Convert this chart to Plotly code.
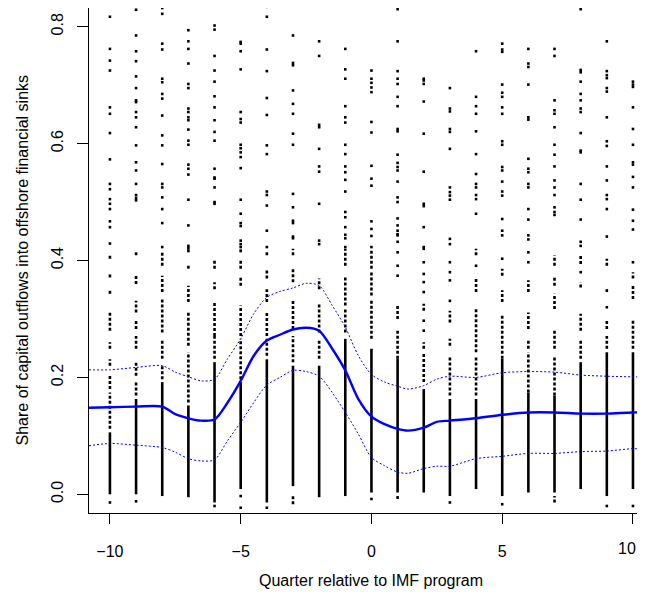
import plotly.graph_objects as go

# ---------------- data ----------------
QUARTERS = list(range(-10, 11))

# sparse individual observations (upper part of each column)
SPARSE = {
    -10: [0.817, 0.762, 0.742, 0.725, 0.662, 0.651, 0.618, 0.573, 0.531, 0.522, 0.505, 0.497, 0.488, 0.467, 0.457, 0.429, -0.014],
    -9: [0.829, 0.785, 0.758, 0.741, 0.715, 0.695, 0.674, 0.671, 0.654, 0.645, 0.628, 0.597, 0.568, 0.554, 0.531, 0.512, 0.507, 0.503, -0.012],
    -8: [0.832, 0.822, 0.771, 0.761, 0.711, 0.705, 0.685, 0.677, 0.648, 0.614, 0.597, 0.565, 0.531, 0.525, 0.508, 0.488, 0.464, 0.423],
    -7: [0.794, 0.775, 0.762, 0.737, 0.702, 0.695, 0.660, 0.654, 0.645, 0.640, 0.624, 0.605, 0.598, 0.564, 0.557, 0.547, 0.504, 0.460, 0.425, 0.421],
    -6: [0.802, 0.795, 0.750, 0.725, 0.706, 0.681, 0.662, 0.640, 0.620, 0.605, 0.557, 0.542, 0.540, 0.525, 0.500, 0.497, -0.020],
    -5: [0.774, 0.771, 0.758, 0.727, 0.654, 0.642, 0.636, 0.598, 0.592, 0.585, 0.577, 0.558, 0.504, 0.480, 0.464, 0.459, 0.434, 0.428, 0.423, -0.003, -0.023],
    -4: [0.834, 0.817, 0.761, 0.724, 0.678, 0.649, 0.597, 0.582, 0.518, 0.512, 0.494, 0.451, 0.423, -0.023],
    -3: [0.785, 0.738, 0.734, 0.691, 0.668, 0.651, 0.617, 0.598, 0.514, 0.491, 0.468, 0.464, 0.441, 0.438],
    -2: [0.775, 0.750, 0.632, 0.628, 0.591, 0.561, 0.552, 0.497, 0.434, 0.428],
    -1: [0.762, 0.727, 0.711, 0.664, 0.645, 0.636, 0.598, 0.582, 0.561, 0.551, 0.538, 0.518, 0.483, 0.474, 0.457, 0.444, 0.438, 0.423],
    0: [0.725, 0.711, 0.704, 0.696, 0.688, 0.637, 0.619, 0.562, 0.540, 0.528, 0.467, 0.454, 0.442, 0.423, -0.008],
    1: [0.830, 0.775, 0.724, 0.711, 0.702, 0.680, 0.664, 0.625, 0.621, 0.581, 0.567, 0.560, 0.554, 0.535, 0.508, 0.500, 0.472, 0.460, 0.451, 0.445, 0.443, 0.432, 0.414, 0.391, 0.374],
    2: [0.711, 0.708, 0.702, 0.672, 0.617, 0.552, 0.497, 0.493, 0.457, 0.423, 0.420, 0.397, 0.377, 0.363, 0.346, 0.297, 0.280],
    3: [0.695, 0.660, 0.655, 0.625, 0.620, 0.591, 0.525, 0.517, 0.511, 0.504, 0.437, 0.428, 0.397, 0.380, 0.366, 0.331, -0.014],
    4: [0.758, 0.680, 0.664, 0.651, 0.621, 0.582, 0.548, 0.531, 0.525, 0.512, 0.505, 0.480, 0.391],
    5: [0.771, 0.761, 0.757, 0.701, 0.687, 0.680, 0.662, 0.651, 0.604, 0.598, 0.560, 0.554, 0.535, 0.518, 0.511, 0.471, 0.451, 0.443, 0.403, -0.017],
    6: [0.762, 0.737, 0.731, 0.701, 0.645, 0.641, 0.574, 0.557, 0.551, 0.531, 0.525, 0.488, 0.470, 0.443, 0.436, 0.414, 0.397],
    7: [0.762, 0.750, 0.674, 0.657, 0.651, 0.628, 0.598, 0.581, 0.561, 0.537, 0.525, 0.512, 0.491, 0.483, 0.478],
    8: [0.830, 0.726, 0.722, 0.706, 0.685, 0.674, 0.660, 0.654, 0.618, 0.588, 0.585, 0.531, 0.504, 0.470, 0.432, 0.425, 0.380],
    9: [0.775, 0.724, 0.717, 0.712, 0.695, 0.689, 0.645, 0.604, 0.596, 0.561, 0.537, 0.512, 0.505, 0.488, 0.441, 0.320, -0.020],
    10: [0.706, 0.701, 0.697, 0.662, 0.625, 0.598, 0.568, 0.564, 0.543, 0.525, 0.487, 0.468, 0.453, 0.397, -0.020],
}

# stretches of closely packed observations (lo, hi)
PACKED = {
    -10: [(0.403, 0.411), (0.371, 0.377), (0.343, 0.349), (0.280, 0.314), (0.249, 0.260), (0.220, 0.231), (0.180, 0.203), (0.112, 0.174)],
    -9: [(0.409, 0.414), (0.360, 0.377), (0.311, 0.331), (0.283, 0.297), (0.249, 0.271), (0.203, 0.226), (0.169, 0.192)],
    -8: [(0.391, 0.414), (0.346, 0.374), (0.277, 0.334), (0.232, 0.266), (0.197, 0.220)],
    -7: [(0.414, 0.420), (0.386, 0.391), (0.329, 0.357), (0.254, 0.311), (0.157, 0.243)],
    -6: [(0.386, 0.403), (0.351, 0.363), (0.271, 0.329), (0.232, 0.271)],
    -5: [(0.414, 0.420), (0.386, 0.403), (0.357, 0.374), (0.271, 0.323), (0.197, 0.266)],
    -4: [(0.409, 0.414), (0.369, 0.386), (0.329, 0.351), (0.271, 0.311), (0.237, 0.266)],
    -3: [(0.409, 0.420), (0.363, 0.386), (0.283, 0.334), (0.226, 0.271), (-0.017, -0.003)],
    -2: [(0.351, 0.369), (0.277, 0.326), (0.232, 0.266)],
    -1: [(0.391, 0.420), (0.323, 0.374), (0.277, 0.317)],
    0: [(0.386, 0.420), (0.340, 0.380), (0.266, 0.334)],
    1: [(0.300, 0.323), (0.232, 0.280), (-0.008, -0.003)],
    2: [(0.314, 0.326), (0.249, 0.260), (0.192, 0.243)],
    3: [(0.294, 0.314), (0.254, 0.266), (0.169, 0.237)],
    4: [(0.409, 0.420), (0.346, 0.369), (0.243, 0.317), (0.169, 0.237)],
    5: [(0.374, 0.386), (0.329, 0.349), (0.232, 0.306)],
    6: [(0.346, 0.366), (0.283, 0.311), (0.249, 0.266), (0.174, 0.243)],
    7: [(0.391, 0.409), (0.357, 0.371), (0.317, 0.343), (0.249, 0.280), (0.169, 0.237), (-0.014, -0.003)],
    8: [(0.394, 0.411), (0.354, 0.363), (0.280, 0.309), (0.232, 0.266)],
    9: [(0.391, 0.403), (0.346, 0.351), (0.283, 0.300), (0.249, 0.271)],
    10: [(0.369, 0.380), (0.334, 0.357), (0.249, 0.300)],
}

# bulk of observations (continuous band lo..hi)
BULK = {
    -10: (0.000, 0.106), -9: (0.000, 0.163), -8: (-0.003, 0.192), -7: (-0.005, 0.152),
    -6: (-0.014, 0.226), -5: (0.009, 0.192), -4: (-0.014, 0.231), -3: (0.014, 0.220),
    -2: (-0.005, 0.220), -1: (-0.003, 0.266), 0: (0.003, 0.249), 1: (0.003, 0.232),
    2: (0.003, 0.180), 3: (-0.003, 0.163), 4: (0.009, 0.163), 5: (-0.003, 0.232),
    6: (0.003, 0.174), 7: (0.003, 0.169), 8: (0.009, 0.226), 9: (-0.003, 0.243),
    10: (0.009, 0.243),
}

# smoothed fit with confidence band
FIT_X = [-10.8, -10, -9, -8, -7.5, -7, -6.5, -6, -5.5, -5, -4.5, -4, -3.5, -3, -2.5, -2, -1.5, -1, -0.5,
         0, 0.5, 1, 1.4, 2, 2.5, 3, 4, 5, 6, 7, 8, 9, 10, 10.8]
FIT = [0.148, 0.149, 0.150, 0.150, 0.137, 0.130, 0.126, 0.128, 0.157, 0.194, 0.237, 0.263, 0.273, 0.282, 0.285,
       0.280, 0.249, 0.212, 0.163, 0.133, 0.120, 0.112, 0.109, 0.114, 0.124, 0.126, 0.130, 0.136, 0.140, 0.140,
       0.138, 0.138, 0.140, 0.140]
UPPER = [0.213, 0.213, 0.217, 0.220, 0.209, 0.201, 0.194, 0.197, 0.232, 0.266, 0.309, 0.337, 0.347, 0.353, 0.361,
         0.357, 0.323, 0.286, 0.237, 0.205, 0.192, 0.185, 0.180, 0.186, 0.197, 0.202, 0.200, 0.208, 0.210, 0.209,
         0.204, 0.202, 0.201, 0.201]
LOWER = [0.083, 0.087, 0.084, 0.080, 0.072, 0.061, 0.057, 0.059, 0.092, 0.123, 0.157, 0.187, 0.200, 0.212, 0.210,
         0.202, 0.174, 0.140, 0.103, 0.063, 0.049, 0.038, 0.036, 0.044, 0.048, 0.048, 0.061, 0.065, 0.070, 0.070,
         0.073, 0.074, 0.078, 0.077]

X_TICKS = [-10, -5, 0, 5, 10]
X_TICK_TEXT = ["\u221210", "\u22125", "0", "5", "10"]
Y_TICKS = [0.0, 0.2, 0.4, 0.6, 0.8]
Y_TICK_TEXT = ["0.0", "0.2", "0.4", "0.6", "0.8"]

X_LABEL = "Quarter relative to IMF program"
Y_LABEL = "Share of capital outflows into offshore financial sinks"

# ---------------- figure ----------------
FONT = "Liberation Sans, Arial, Helvetica, sans-serif"
fig = go.Figure()

# bulk bands
bx, by = [], []
for q in QUARTERS:
    lo, hi = BULK[q]
    bx += [q, q, None]
    by += [lo, hi, None]
fig.add_trace(go.Scatter(x=bx, y=by, mode="lines", line=dict(color="black", width=2.6),
                         hoverinfo="skip", showlegend=False))

# packed stretches
px_, py_ = [], []
for q in QUARTERS:
    for lo, hi in PACKED[q]:
        px_ += [q, q, None]
        py_ += [lo, hi, None]
fig.add_trace(go.Scatter(x=px_, y=py_, mode="lines",
                         line=dict(color="black", width=2.6, dash="3px,2px"),
                         hoverinfo="skip", showlegend=False))

# sparse points
sx, sy = [], []
for q in QUARTERS:
    for v in SPARSE[q]:
        sx.append(q)
        sy.append(v)
fig.add_trace(go.Scatter(x=sx, y=sy, mode="markers",
                         marker=dict(symbol="square", size=2.6, color="black", line=dict(width=0)),
                         showlegend=False))

# confidence band lines
for band in (UPPER, LOWER):
    fig.add_trace(go.Scatter(x=FIT_X, y=band, mode="lines", line_shape="spline",
                             line=dict(color="#0000ff", width=1, dash="2px,2px", smoothing=0.8),
                             showlegend=False))
fig.add_trace(go.Scatter(x=FIT_X, y=FIT, mode="lines", line_shape="spline",
                         line=dict(color="#0000ff", width=2.4, smoothing=0.8), showlegend=False))

# the last tick label would be cut at the visible right edge: draw it as an
# annotation nudged slightly left so the whole text stays visible
axis_text = list(X_TICK_TEXT)
last_label = axis_text[-1]
axis_text[-1] = ""

# the page body keeps an 8px margin, so the figure is 8px smaller than the window
fig.update_layout(
    width=637, height=586,
    margin=dict(l=81, r=0, t=0, b=81),
    paper_bgcolor="white", plot_bgcolor="white",
    font=dict(family=FONT, size=16, color="black"),
    xaxis=dict(range=[-10.8, 10.46], showgrid=False, zeroline=False,
               showline=True, mirror=True, linecolor="black", linewidth=1,
               ticks="outside", ticklen=10, tickwidth=1, tickcolor="black",
               tickvals=X_TICKS, ticktext=axis_text, ticklabelstandoff=14),
    yaxis=dict(range=[-0.032, 0.832], showgrid=False, zeroline=False,
               showline=True, mirror=False, linecolor="black", linewidth=1,
               ticks="outside", ticklen=11, tickwidth=1, tickcolor="black",
               tickvals=Y_TICKS, ticktext=Y_TICK_TEXT, tickangle=-90, ticklabelstandoff=8),
    annotations=[
        dict(text=last_label, xref="x", yref="paper", x=X_TICKS[-1], y=0, xshift=-6, yshift=-35,
             showarrow=False, xanchor="center", yanchor="middle", font=dict(size=16)),
        dict(text=X_LABEL, xref="x", yref="paper", x=0, y=0, yshift=-67,
             showarrow=False, xanchor="center", yanchor="middle", font=dict(size=16)),
        dict(text=Y_LABEL, xref="paper", yref="paper", x=0, y=0.5, xshift=-67,
             showarrow=False, xanchor="center", yanchor="middle", textangle=-90, font=dict(size=16)),
    ],
)

fig.write_html("out.html")
